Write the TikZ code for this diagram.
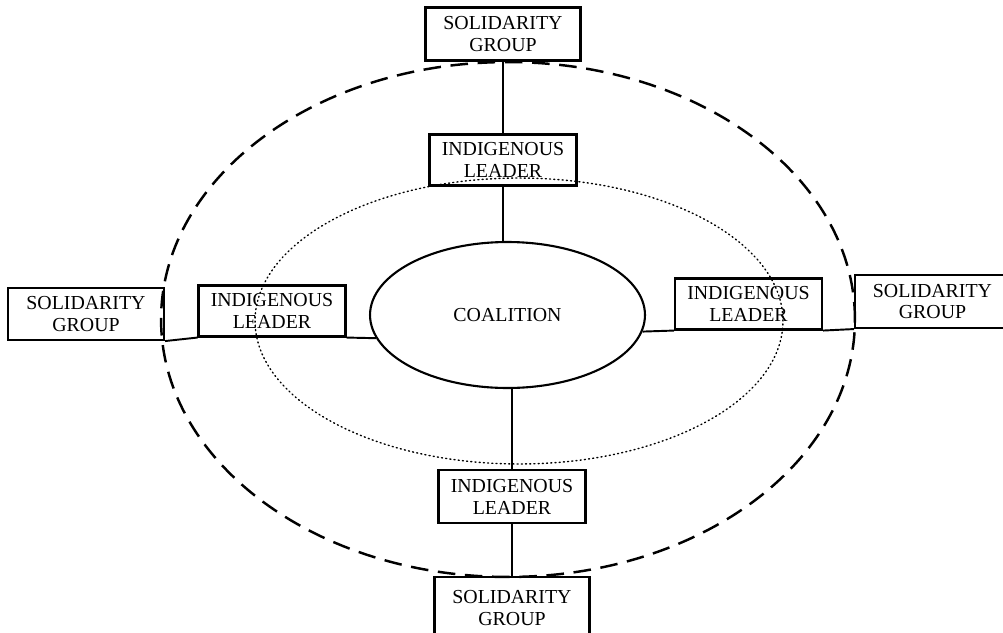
\documentclass[tikz,border=0pt]{standalone}
\usepackage{fontspec}
\setmainfont{Liberation Serif}
\usetikzlibrary{shapes.geometric}
\begin{document}
\begin{tikzpicture}[x=0.02cm,y=-0.02cm,
  lbl/.style={font=\fontsize{11.3}{12.5}\selectfont, align=center, inner sep=0pt},
  sgbox/.style={lbl, draw, line width=1.2pt, minimum width=3.1cm, minimum height=1.06cm},
  ilbox/.style={lbl, draw, line width=1.2pt, minimum width=2.94cm, minimum height=1.02cm},
  conn/.style={line width=1.1pt},
  outerring/.style={line width=1.4pt, dash pattern=on 10pt off 5.5pt},
  innerring/.style={line width=0.8pt, dash pattern=on 0.6pt off 1.8pt, line cap=round}
]
\useasboundingbox (0,0) rectangle (1003,632);
% rings
\draw[outerring] (508,319.5) ellipse [x radius=6.94cm, y radius=5.15cm];
\draw[innerring] (519,321) ellipse [x radius=5.28cm, y radius=2.86cm];
% centre
\node[lbl, draw, ellipse, line width=1.2pt, minimum width=5.5cm, minimum height=2.92cm] (coal) at (507.5,315) {COALITION};
% indigenous leaders
\node[ilbox] (til) at (503,160) {INDIGENOUS\\LEADER};
\node[ilbox] (lil) at (272,311) {INDIGENOUS\\LEADER};
\node[ilbox] (ril) at (748.5,304) {INDIGENOUS\\LEADER};
\node[ilbox, minimum height=1.06cm] (bil) at (512,496.5) {INDIGENOUS\\LEADER};
% solidarity groups
\node[sgbox] (tsg) at (503,34) {SOLIDARITY\\GROUP};
\node[sgbox, minimum width=3.12cm, minimum height=1.04cm] (lsg) at (86,314) {SOLIDARITY\\GROUP};
\node[sgbox, minimum height=1.06cm] (rsg) at (932.5,301.5) {SOLIDARITY\\GROUP};
\node[sgbox, minimum height=1.24cm] (bsg) at (512,608) {SOLIDARITY\\GROUP};
% connectors
\draw[conn] (tsg.south) -- (til.north);
\draw[conn] (til.south) -- (til.south |- coal.north);
\draw[conn] (bil.north |- coal.south) -- (bil.north);
\draw[conn] (bil.south) -- (bsg.north);
\draw[conn] (lsg.south east) -- (lil.south west);
\draw[conn] (lil.south east) -- (coal.190);
\draw[conn] (coal.353) -- (ril.south west);
\draw[conn] (ril.south east) -- (rsg.south west);
\end{tikzpicture}
\end{document}
